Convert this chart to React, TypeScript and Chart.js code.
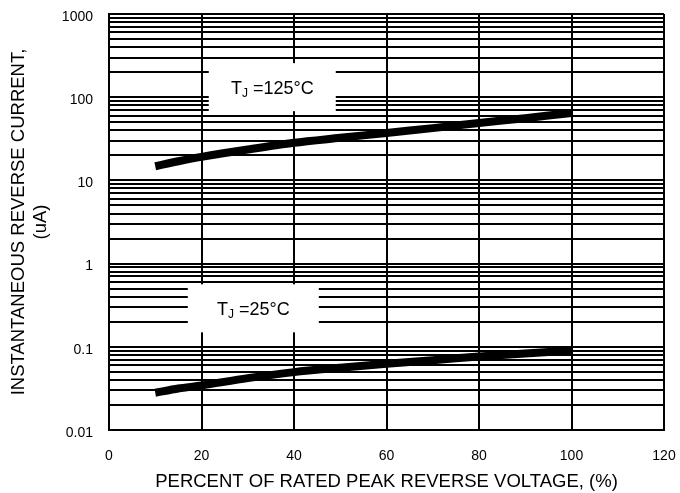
import React, { useEffect, useRef } from 'react';
import { Chart, registerables } from 'chart.js';

Chart.register(...registerables);

// ---- data ----
const voltagePct = [10, 15, 20, 30, 40, 50, 60, 70, 80, 90, 100];
const current125C = [14.8, 17, 19.2, 23.5, 28.3, 32.5, 37.2, 42.5, 49, 56, 64.7];
const current25C = [0.028, 0.0315, 0.0343, 0.042, 0.0496, 0.056, 0.0626, 0.069, 0.0766, 0.083, 0.0905];
const xTickValues = [0, 20, 40, 60, 80, 100, 120];
const yDecades = [0.01, 0.1, 1, 10, 100, 1000];
const seriesLabels = ['TJ=125°C', 'TJ=25°C'];
const annotationTexts = [
  { main: 'T', sub: 'J', rest: ' =125°C' },
  { main: 'T', sub: 'J', rest: ' =25°C' },
];
// annotation anchors in data coordinates (x %, y uA)
const annotationAnchors = [
  { x: 35.3, y: 132, w: 127, h: 48 },
  { x: 31.2, y: 0.29, w: 131, h: 48 },
];

const FONT = '"Liberation Sans", Arial, sans-serif';

function buildYTicks(): number[] {
  const out: number[] = [];
  for (let d = 0; d < yDecades.length; d++) {
    const base = yDecades[d];
    out.push(base);
    if (d < yDecades.length - 1) {
      for (let m = 2; m <= 9; m++) out.push(parseFloat((base * m).toPrecision(3)));
    }
  }
  return out;
}

const boxPlugin = {
  id: 'tjBoxes',
  beforeDatasetsDraw(chart: any) {
    const { ctx, scales } = chart;
    const xs = scales.x;
    const ys = scales.y;
    ctx.save();
    annotationAnchors.forEach((a, i) => {
      const cx = xs.getPixelForValue(a.x);
      const cy = ys.getPixelForValue(a.y);
      ctx.fillStyle = '#fff';
      ctx.fillRect(cx - a.w / 2, cy - a.h / 2, a.w, a.h);
      const t = annotationTexts[i];
      const bigFont = `18px ${FONT}`;
      const smallFont = `12px ${FONT}`;
      ctx.font = bigFont;
      const wMain = ctx.measureText(t.main).width;
      const wRest = ctx.measureText(t.rest).width;
      ctx.font = smallFont;
      const wSub = ctx.measureText(t.sub).width;
      const total = wMain + wSub + wRest;
      let x = cx - total / 2;
      ctx.fillStyle = '#000';
      ctx.textBaseline = 'alphabetic';
      ctx.textAlign = 'left';
      const baseY = cy + 7;
      ctx.font = bigFont;
      ctx.fillText(t.main, x, baseY);
      x += wMain;
      ctx.font = smallFont;
      ctx.fillText(t.sub, x, baseY + 3);
      x += wSub;
      ctx.font = bigFont;
      ctx.fillText(t.rest, x, baseY);
    });
    ctx.restore();
  },
};

export default function App() {
  const ref = useRef<HTMLCanvasElement>(null);
  useEffect(() => {
    document.body.style.margin = '0';
    const yTicks = buildYTicks();
    const chart = new Chart(ref.current as HTMLCanvasElement, {
      type: 'line',
      data: {
        datasets: [
          {
            label: seriesLabels[0],
            data: voltagePct.map((v, i) => ({ x: v, y: current125C[i] })),
            borderColor: '#000',
            borderWidth: 8,
            pointRadius: 0,
            tension: 0.3,
            borderCapStyle: 'butt',
          },
          {
            label: seriesLabels[1],
            data: voltagePct.map((v, i) => ({ x: v, y: current25C[i] })),
            borderColor: '#000',
            borderWidth: 8,
            pointRadius: 0,
            tension: 0.3,
            borderCapStyle: 'butt',
          },
        ],
      },
      options: {
        animation: false,
        responsive: false,
        devicePixelRatio: 1,
        layout: { padding: { top: 14, right: 16, left: 0, bottom: 0 } },
        plugins: { legend: { display: false }, tooltip: { enabled: false } },
        scales: {
          x: {
            type: 'linear',
            min: 0,
            max: 120,
            afterBuildTicks: (s: any) => {
              s.ticks = xTickValues.map((v) => ({ value: v }));
            },
            afterFit: (s: any) => {
              s.height = 63;
              s.paddingLeft = 0;
              s.paddingRight = 0;
            },
            grid: { color: '#000', lineWidth: 2, drawTicks: false },
            border: { display: true, color: '#000', width: 2 },
            ticks: {
              color: '#000',
              font: { family: FONT, size: 14 },
              padding: 18,
              autoSkip: false,
              maxRotation: 0,
            },
            title: {
              display: true,
              text: 'PERCENT OF RATED PEAK REVERSE VOLTAGE, (%)',
              color: '#000',
              font: { family: FONT, size: 18.5 },
              padding: { top: 4, bottom: 0 },
            },
          },
          y: {
            type: 'logarithmic',
            min: 0.01,
            max: 1000,
            afterBuildTicks: (s: any) => {
              s.ticks = yTicks.map((v) => ({ value: v, major: yDecades.includes(v) }));
            },
            afterFit: (s: any) => {
              s.width = 109;
              s.paddingTop = 0;
              s.paddingBottom = 0;
            },
            grid: { color: '#000', lineWidth: 2, drawTicks: false },
            border: { display: true, color: '#000', width: 2 },
            ticks: {
              color: '#000',
              font: { family: FONT, size: 14 },
              padding: 16,
              labelOffset: 3,
              autoSkip: false,
              callback: (v: any) => {
                const n = Number(v);
                return yDecades.includes(n) ? String(n) : '';
              },
            },
            title: {
              display: true,
              text: ['INSTANTANEOUS REVERSE CURRENT,', '(uA)'],
              color: '#000',
              font: { family: FONT, size: 18.5, lineHeight: 1.2 },
              padding: { top: 8, bottom: 0 },
            },
          },
        },
      },
      plugins: [boxPlugin],
    } as any);
    return () => chart.destroy();
  }, []);
  return <canvas ref={ref} width={680} height={493} style={{ display: 'block' }} />;
}
